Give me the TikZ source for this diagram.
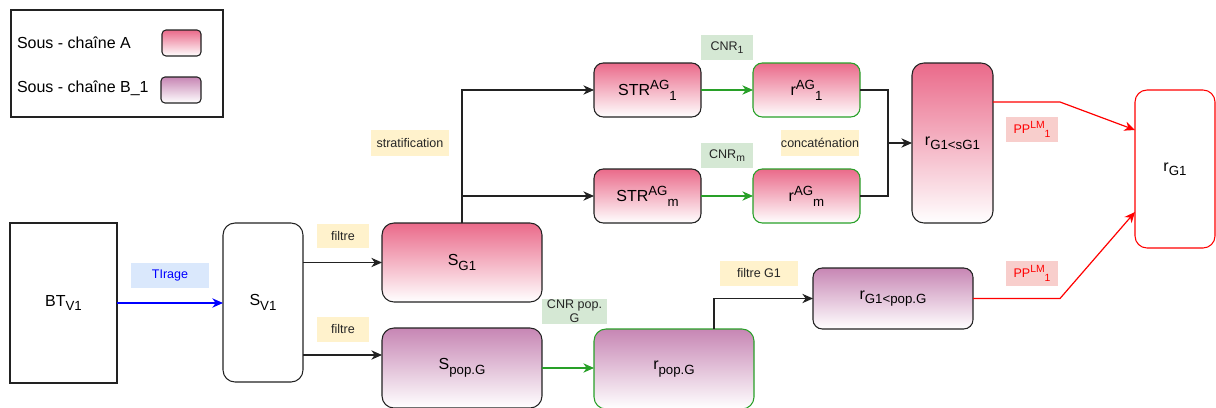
\documentclass[tikz,border=0pt]{standalone}
\usepackage{fontspec}
\setmainfont{Liberation Sans}
\usetikzlibrary{arrows.meta,calc}

\definecolor{chainA}{RGB}{234,106,138}
\definecolor{chainB}{RGB}{199,134,180}
\definecolor{edgegray}{RGB}{34,34,34}
\definecolor{okgreen}{RGB}{40,160,40}
\definecolor{tagyellow}{HTML}{FFF2CC}
\definecolor{tagblue}{HTML}{DAE8FC}
\definecolor{taggreen}{HTML}{D5E8D4}
\definecolor{tagred}{HTML}{F8CECC}
\definecolor{pured}{RGB}{255,0,0}
\definecolor{pureblue}{RGB}{0,0,255}

% HTML-like sub/superscripts at 83% of the current size
\makeatletter
\newcommand\loT[1]{{\dimen@=\f@size\p@ \dimen@=.83\dimen@
  \raisebox{-.28em}{\fontsize{\strip@pt\dimen@}{\z@}\selectfont #1}}}
\newcommand\hiT[1]{{\dimen@=\f@size\p@ \dimen@=.83\dimen@
  \raisebox{.42em}{\fontsize{\strip@pt\dimen@}{\z@}\selectfont #1}}}
\makeatother

\begin{document}
\begin{tikzpicture}[x=0.75pt,y=-0.75pt,
  every node/.style={inner sep=0pt, outer sep=0pt},
  sz/.style 2 args={minimum width=#1*0.75pt, minimum height=#2*0.75pt},
  mainfont/.style={font=\fontsize{12}{14}\selectfont, text=black},
  sharpbox/.style={draw=edgegray, line width=0.8pt, mainfont},
  box/.style={sharpbox, rounded corners=7pt},
  chA/.style={box, top color=chainA, bottom color=white},
  chB/.style={box, top color=chainB, bottom color=white},
  tag/.style={font=\fontsize{9.4}{10.5}\selectfont, text=black!85},
  tip/.style={-{Stealth[length=8pt,width=7pt,inset=2.5pt]}},
  line/.style={draw=edgegray, line width=0.8pt},
  link/.style={line, tip},
  glink/.style={draw=okgreen, line width=0.8pt, tip},
  rlink/.style={draw=pured, line width=0.9pt, tip},
  blink/.style={draw=pureblue, line width=0.9pt, tip},
]
\useasboundingbox (0,0) rectangle (1216,407);
\clip (0,0) rectangle (1216,407);
\fill[white] (0,0) rectangle (1216,407);

% legend
\node[sharpbox, sz={212}{107}] (legend) at (117,63.5) {};
\node[mainfont, anchor=west] (legA) at (17,43) {Sous - chaîne A};
\node[mainfont, anchor=west] (legB) at (17,88) {Sous - chaîne B\_1};
\node[chA, rounded corners=3pt, sz={39}{26}] (swA) at (181.5,43) {};
\node[chB, rounded corners=3pt, sz={40}{26}] (swB) at (181,90) {};

% main blocks
\node[sharpbox, fill=white, sz={107}{160}] (BT) at (63.5,303) {BT\loT{V1}};
\node[box, fill=white, rounded corners=9pt, sz={80}{159}] (SV1) at (263,302.5) {S\loT{V1}};
\node[chA, rounded corners=9pt, sz={160}{79}] (SG1) at (462,262.5) {S\loT{G1}};
\node[chB, rounded corners=9pt, sz={160}{80}] (Spop) at (462,368) {S\loT{pop.G}};
\node[chA, sz={107}{54}] (STR1) at (647.5,90) {STR\hiT{AG}\loT{1}};
\node[chA, sz={107}{54}] (STRm) at (647.5,196) {STR\hiT{AG}\loT{m}};
\node[chA, draw=okgreen, sz={107}{54}] (rAG1) at (806.5,90) {r\hiT{AG}\loT{1}};
\node[chA, draw=okgreen, sz={107}{54}] (rAGm) at (806.5,196) {r\hiT{AG}\loT{m}};
\node[chA, rounded corners=9pt, sz={81}{160}] (rsG1) at (952.5,143) {r\loT{G1<sG1}};
\node[box, draw=pured, fill=white, rounded corners=9pt, sz={80}{158}] (rG1) at (1175,169) {r\loT{G1}};
\node[chB, draw=okgreen, rounded corners=9pt, sz={160}{80}] (rpop) at (674,369) {r\loT{pop.G}};
\node[chB, sz={160}{61}] (rpopG1) at (893,298.5) {r\loT{G1<pop.G}};

% connectors
\draw[blink] (BT.east) -- (BT.east -| SV1.west);
\draw[link] (SG1.west -| SV1.east) -- (SG1.west);
\coordinate (inPop) at ($(Spop.west)+(0,-13)$);
\draw[link] (inPop -| SV1.east) -- (inPop);
\draw[link] (SG1.north) |- (STR1.west);
\draw[link] (SG1.north) |- (STRm.west);
\draw[glink] (STR1.east) -- (rAG1.west);
\draw[glink] (STRm.east) -- (rAGm.west);
\coordinate (join) at (888,143);
\draw[line] (rAG1.east) -| (join);
\draw[line] (rAGm.east) -| (join);
\draw[link] (join) -- (rsG1.west);
\draw[glink] (Spop.east) -- (Spop.east -| rpop.west);
\coordinate (upPop) at ($(rpop.north west)+(120,0)$);
\draw[link] (upPop) |- (rpopG1.west);
\coordinate (outA) at ($(rsG1.north east)+(0,39)$);
\coordinate (bendA) at (1060,102);
\coordinate (inA) at ($(rG1.west)+(0,-39)$);
\draw[rlink] (outA) -- (bendA) -- (inA);
\coordinate (bendB) at (1060,298.5);
\coordinate (inB) at ($(rG1.west)+(0,43)$);
\draw[rlink] (rpopG1.east) -- (bendB) -- (inB);

% edge labels
\node[tag, fill=tagblue, text=pureblue, sz={78}{25}] (tTir) at (170,275.5) {TIrage};
\node[tag, fill=tagyellow, sz={52}{24}] (tF1) at (343,236) {filtre};
\node[tag, fill=tagyellow, sz={52}{25}] (tF2) at (343,329.5) {filtre};
\node[tag, fill=tagyellow, sz={78}{26}] (tStrat) at (410,143) {stratification};
\node[tag, fill=tagyellow, sz={78}{26}] (tCat) at (820,143) {concaténation};
\node[tag, fill=taggreen, sz={52}{25}] (tC1) at (727,47.5) {CNR\loT{1}};
\node[tag, fill=taggreen, sz={52}{25}] (tCm) at (727,155.5) {CNR\loT{m}};
\node[tag, fill=taggreen, sz={65}{25}, align=center] (tCp) at (574.5,311.5) {CNR pop.\\G};
\node[tag, fill=tagyellow, sz={78}{25}] (tFG) at (759,273.5) {filtre G1};
\node[tag, fill=tagred, text=pured, sz={52}{25}] (tPP1) at (1032,129.5) {PP\hiT{LM}\loT{1}};
\node[tag, fill=tagred, text=pured, sz={52}{25}] (tPP2) at (1032,273.5) {PP\hiT{LM}\loT{1}};
\end{tikzpicture}
\end{document}
